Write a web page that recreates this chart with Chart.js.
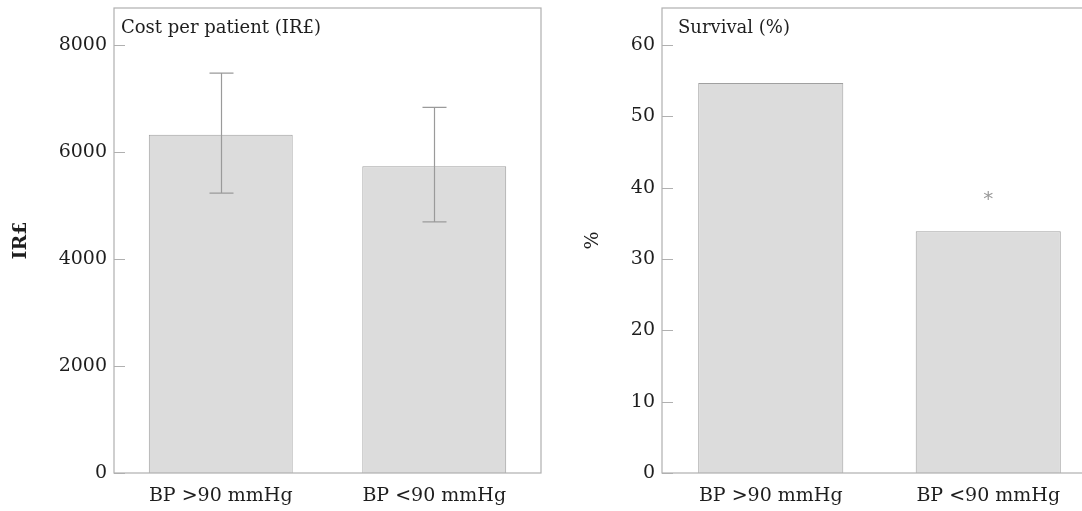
<!DOCTYPE html>
<html>
<head>
<meta charset="utf-8">
<script src="https://cdn.jsdelivr.net/npm/chart.js@4.4.1/dist/chart.umd.min.js"></script>
<style>
  html, body { margin: 0; padding: 0; background: #fff; overflow: hidden; }
  .panel { position: absolute; top: 0; height: 511px; }
  #leftBox { left: 0; width: 545px; }
  #rightBox { left: 545px; width: 560px; }
</style>
</head>
<body>
<div class="panel" id="leftBox"><canvas id="costChart"></canvas></div>
<div class="panel" id="rightBox"><canvas id="survivalChart"></canvas></div>
<script>
// data
var groups = ['BP >90 mmHg', 'BP <90 mmHg']
var costValues = [6330, 5740]
var costLow = [5235, 4700]
var costHigh = [7480, 6840]
var costTicks = [0, 2000, 4000, 6000, 8000]
var survivalValues = [54.7, 33.9]
var survivalMarks = ['', '*']
var survivalTicks = [0, 10, 20, 30, 40, 50, 60]

Chart.defaults.font.family = "'DejaVu Serif', serif"
Chart.defaults.font.size = 19
Chart.defaults.color = '#1e1e1e'

// frame, inward ticks, error bars, panel title, significance mark
var panelDecor = {
    id: 'panelDecor',
    afterDatasetsDraw: function (chart) {
        var o = chart.options.plugins.panelDecor
        var ctx = chart.ctx
        var a = chart.chartArea
        var y = chart.scales.y
        var meta = chart.getDatasetMeta(0)
        ctx.save()

        ctx.strokeStyle = '#b0b0b0'
        ctx.lineWidth = 1.2
        ctx.strokeRect(a.left, a.top, a.right - a.left, a.bottom - a.top)

        ctx.beginPath()
        y.ticks.forEach(function (t) {
            var py = Math.round(y.getPixelForValue(t.value)) + 0.5
            ctx.moveTo(a.left, py)
            ctx.lineTo(a.left + 11, py)
        })
        ctx.stroke()

        if (o.low) {
            ctx.strokeStyle = '#9a9a9a'
            ctx.lineWidth = 1.2
            ctx.beginPath()
            meta.data.forEach(function (bar, i) {
                var x = Math.round(bar.x) + 0.5
                var top = y.getPixelForValue(o.high[i])
                var bot = y.getPixelForValue(o.low[i])
                ctx.moveTo(x, top); ctx.lineTo(x, bot)
                ctx.moveTo(x - 12, top); ctx.lineTo(x + 12, top)
                ctx.moveTo(x - 12, bot); ctx.lineTo(x + 12, bot)
            })
            ctx.stroke()
        }

        if (o.marks) {
            ctx.fillStyle = '#999'
            ctx.font = "20px 'DejaVu Sans', sans-serif"
            ctx.textAlign = 'center'
            ctx.textBaseline = 'middle'
            meta.data.forEach(function (bar, i) {
                if (o.marks[i]) ctx.fillText(o.marks[i], bar.x, bar.y - 31)
            })
        }

        ctx.fillStyle = '#1e1e1e'
        ctx.font = "18px 'DejaVu Serif', serif"
        ctx.textAlign = 'left'
        ctx.textBaseline = 'alphabetic'
        ctx.fillText(o.title, a.left + o.titleDx, 33)
        ctx.restore()
    }
}

function makePanel(id, values, tickValues, opts) {
    return new Chart(document.getElementById(id), {
        type: 'bar',
        data: {
            labels: groups,
            datasets: [{
                data: values,
                backgroundColor: '#dcdcdc',
                borderColor: '#a0a0a0',
                borderWidth: 1,
                barPercentage: opts.barPct,
                categoryPercentage: 1
            }]
        },
        options: {
            responsive: true,
            maintainAspectRatio: false,
            animation: false,
            layout: { padding: { top: 8, right: opts.padRight, left: 0, bottom: 0 } },
            plugins: {
                legend: { display: false },
                tooltip: { enabled: false },
                panelDecor: opts.decor
            },
            scales: {
                x: {
                    grid: { display: false, drawTicks: false },
                    border: { display: false },
                    ticks: { padding: 12 },
                    afterFit: function (s) { s.height = 38; s.paddingLeft = 0; s.paddingRight = 0 }
                },
                y: {
                    min: 0,
                    max: opts.max,
                    grid: { display: false, drawTicks: false },
                    border: { display: false },
                    ticks: {
                        padding: 7,
                        callback: function (v) { return String(v) }
                    },
                    afterBuildTicks: function (s) {
                        s.ticks = tickValues.map(function (v) { return { value: v } })
                    },
                    title: {
                        display: true,
                        text: opts.yTitle,
                        font: { size: 19, weight: opts.yBold ? 'bold' : 'normal' },
                        padding: { top: opts.titlePad, bottom: 0 }
                    },
                    afterFit: function (s) { s.width = opts.axisWidth; s.paddingTop = 0; s.paddingBottom = 0 }
                }
            }
        },
        plugins: [panelDecor]
    })
}

makePanel('costChart', costValues, costTicks, {
    max: 8700, barPct: 0.674, padRight: 4, axisWidth: 114,
    yTitle: 'IR£', yBold: true, titlePad: 10,
    decor: { low: costLow, high: costHigh, title: 'Cost per patient (IR£)', titleDx: 7 }
})

makePanel('survivalChart', survivalValues, survivalTicks, {
    max: 65.2, barPct: 0.667, padRight: 8, axisWidth: 117,
    yTitle: '%', yBold: false, titlePad: 37,
    decor: { marks: survivalMarks, title: 'Survival (%)', titleDx: 16 }
})
</script>
</body>
</html>
